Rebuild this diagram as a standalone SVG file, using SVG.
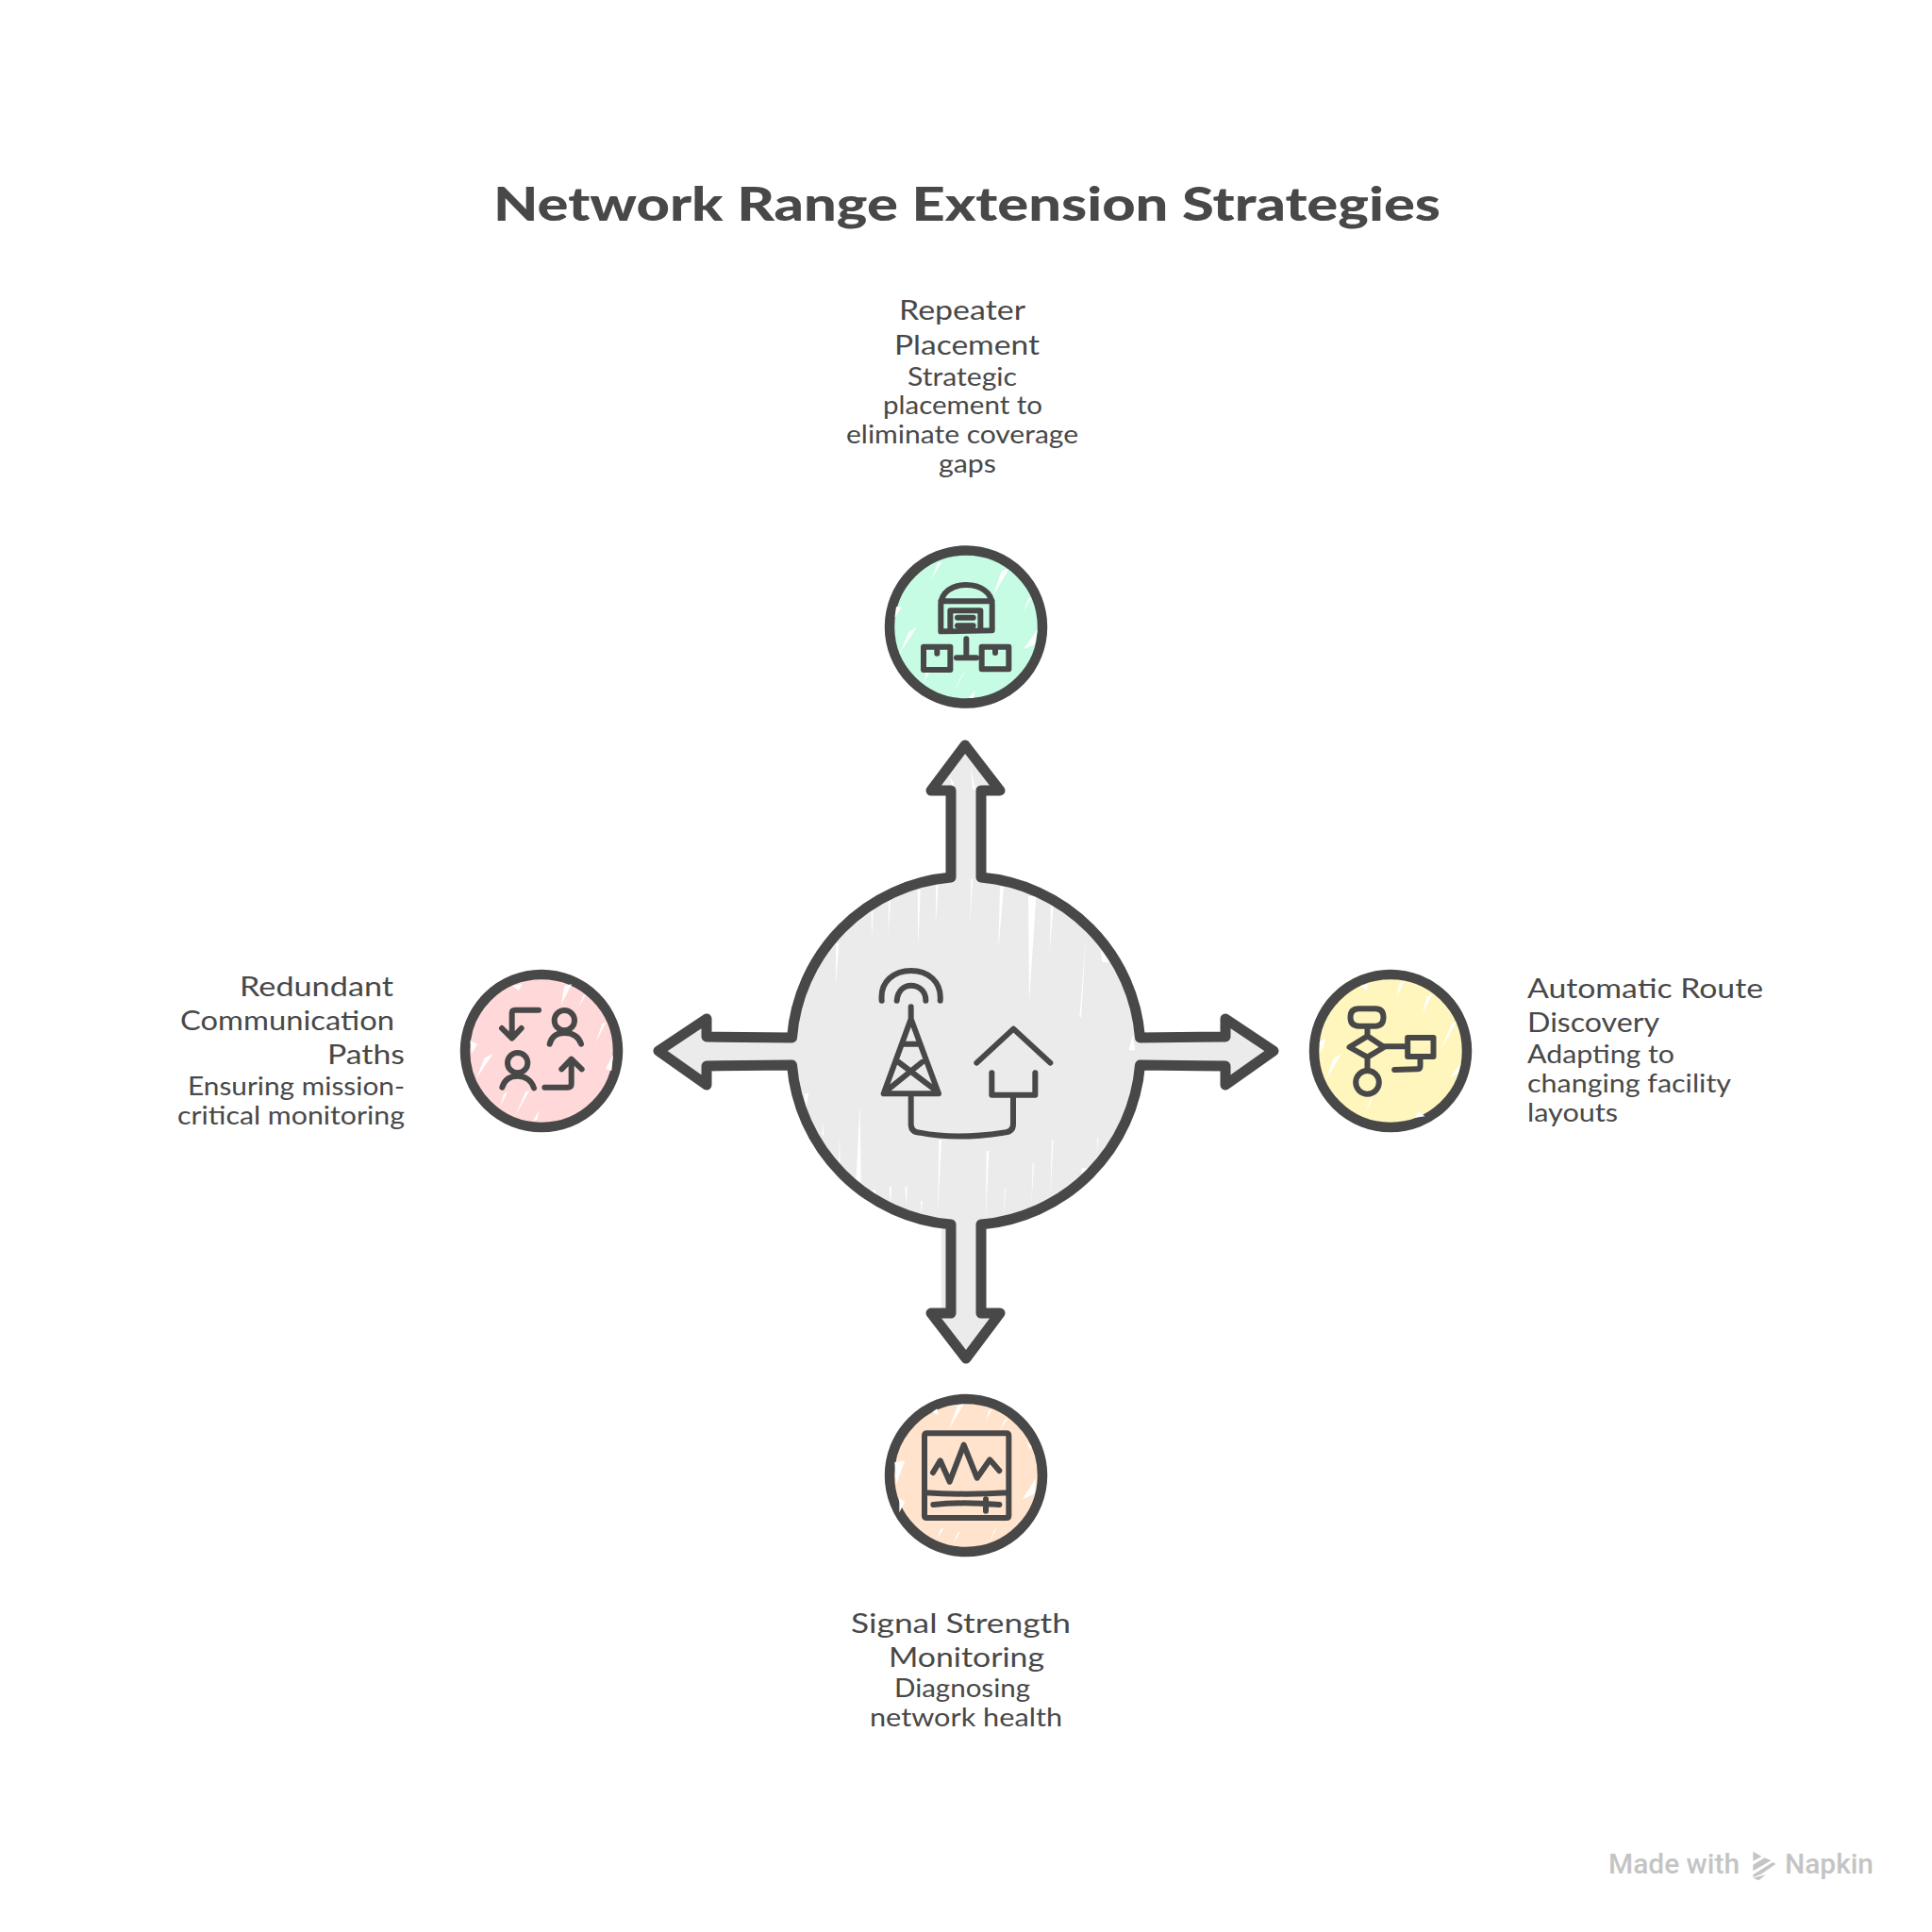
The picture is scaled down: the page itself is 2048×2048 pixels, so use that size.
<svg xmlns="http://www.w3.org/2000/svg" width="2048" height="2048" viewBox="0 0 2048 2048">
<defs>
<path id="outline" d="M1008 930 L1008 838 L987 838 L1023 790 L1060 838 L1040 838 L1040 930 A185 185 0 0 1 1208.500 1100 L1299 1099 L1299 1080 L1350 1114 L1299 1150 L1299 1130 L1208.500 1129 A185 185 0 0 1 1040 1298 L1040 1392 L1060 1392 L1024 1440 L987 1392 L1008 1392 L1008 1298 A185 185 0 0 1 839.500 1129 L749 1130 L749 1150 L698 1114 L749 1080 L749 1099 L839.500 1100 A185 185 0 0 1 1008 930 Z"/>
</defs>
<style>
.o{fill:none;stroke:#484848;stroke-width:18;stroke-linecap:round;stroke-linejoin:round}
.c{stroke:#484848;stroke-width:10.5}
.t{font-family:"Lato","Noto Sans",sans-serif;fill:#484848}
.h{font-size:29px}
.d{font-size:26px}
.r{fill:#fff}
.m{font-family:"Roboto","Open Sans",sans-serif;font-size:29px;font-weight:500;fill:#c4c4c4}
</style>
<rect width="2048" height="2048" fill="#fff"/>
<text id="title" class="t" x="523" y="234" font-size="50" font-weight="900" textLength="1004" lengthAdjust="spacingAndGlyphs">Network Range Extension Strategies</text>
<g id="connectors">
<rect x="998" y="1296" width="8" height="100" fill="#ebebeb"/>
<use href="#outline" fill="#ebebeb"/>
<g transform="translate(800 880) scale(.33333)" class="r">
<path d="M370 255L374 340L376 255ZM426 225L425 335L432 225ZM518 190L520 375L527 190ZM577 175L575 305L584 175ZM688 155L685 305L693 155ZM780 180L775 380L792 180ZM870 210L873 545L895 210ZM942 240L938 390L950 240ZM1055 320L1033 595L1038 595ZM1100 380L1105 420L1130 420ZM258 360L258 490L268 360ZM1190 700L1202 650L1210 700ZM335 870L322 1120L338 1120ZM270 975L266 1090L273 1090ZM218 930L214 970L220 970ZM158 838L158 905L172 838ZM586 985L582 1230L594 985ZM737 1020L735 1235L745 1020ZM884 1060L880 1195L888 1060ZM945 985L940 1170L950 985ZM1090 980L1088 1030L1094 980ZM1040 1075L1040 1100L1060 1075ZM428 1135L432 1190L435 1135ZM478 1135L482 1195L485 1135ZM528 1180L530 1220L534 1180ZM795 1140L792 1230L799 1140ZM360 1145L385 1145L385 1170Z"/>
</g>
<path class="r" d="M1006 823L1011 838L1011 830ZM1029 814L1031 837L1034 837Z"/>
<use href="#outline" fill="none" stroke="#484848" stroke-width="11" stroke-linejoin="round"/>
</g>
<g id="center-icon" transform="translate(800 880) scale(.33333)">
<path class="o" d="M404 542C398 480 445 447 497 447C550 447 595 480 590 542M452 542C455 510 475 494 497 494C520 494 545 510 544 542M497 562L497 600M497 600L410 838L585 838ZM475 680L520 680M458 738L582 832M532 738L415 832M497 850L497 935Q497 960 525 962Q640 985 790 962Q822 960 822 935L822 845M706 740L823 632L940 740M754 772L754 842L892 842L892 772"/>
</g>
<g id="repeater-placement">
<circle class="c" cx="1024" cy="664.500" r="81" fill="#c6fbe4"/>
<g transform="translate(920 560) scale(.33333)">
<path class="r" d="M200 165L235 108L222 110ZM398 215L448 130L425 135ZM495 268L520 220L510 225ZM85 285L108 250L90 250ZM100 400L155 315L130 330ZM178 490L205 440L190 445ZM268 530L312 450L295 475ZM495 385L540 320L530 370ZM320 540L342 515L335 540Z"/>
<path class="o" d="M232 328L232 240C235 205 265 180 312 180C360 180 392 205 395 240L395 325ZM232 232L395 232M262 318L262 262L358 262L358 318M285 284L335 284M285 310L335 310M313 352L313 412M282 412L345 412M177 377L262 377L262 450L177 450ZM220 380L220 398M362 377L448 377L448 448L362 448ZM405 380L405 396"/>
</g>
<text class="t h" x="953" y="339" textLength="134" lengthAdjust="spacingAndGlyphs">Repeater</text>
<text class="t h" x="948" y="376" textLength="154" lengthAdjust="spacingAndGlyphs">Placement</text>
<text class="t d" x="962" y="409" textLength="116" lengthAdjust="spacingAndGlyphs">Strategic</text>
<text class="t d" x="936" y="439" textLength="169" lengthAdjust="spacingAndGlyphs">placement to</text>
<text class="t d" x="897" y="470" textLength="246" lengthAdjust="spacingAndGlyphs">eliminate coverage</text>
<text class="t d" x="995" y="501" textLength="61" lengthAdjust="spacingAndGlyphs">gaps</text>
</g>
<g id="redundant-paths">
<circle class="c" cx="574" cy="1114" r="81" fill="#ffd9d9"/>
<g transform="translate(470 1010) scale(.33333)">
<path class="r" d="M375 165L408 100L385 105ZM432 170L452 135L445 135ZM485 285L518 220L505 225ZM85 280L108 290L90 320ZM105 400L158 320L130 335ZM515 370L540 325L535 375ZM180 490L205 440L192 450ZM228 520L275 435L260 445ZM285 535L305 500L298 530ZM220 105L240 120L250 100Z"/>
<path class="o" d="M303 182L228 182Q218 182 218 192L218 270M186 240L218 272L248 240M338 290C345 262 365 255 385 255C410 255 430 265 438 290M187 428C195 400 215 392 236 392C260 392 280 405 288 430M322 428L395 428Q407 428 407 418L407 340M376 370L407 338L440 370"/>
<circle class="o" cx="385" cy="215" r="32"/><circle class="o" cx="236" cy="350" r="32"/>
</g>
<text class="t h" x="254" y="1056" textLength="163" lengthAdjust="spacingAndGlyphs">Redundant</text>
<text class="t h" x="191" y="1092" textLength="227" lengthAdjust="spacingAndGlyphs">Communication</text>
<text class="t h" x="347" y="1128" textLength="82" lengthAdjust="spacingAndGlyphs">Paths</text>
<text class="t d" x="199" y="1161" textLength="230" lengthAdjust="spacingAndGlyphs">Ensuring mission-</text>
<text class="t d" x="188" y="1192" textLength="241" lengthAdjust="spacingAndGlyphs">critical monitoring</text>
</g>
<g id="route-discovery">
<circle class="c" cx="1474" cy="1114" r="81" fill="#fff6bd"/>
<g transform="translate(1370.500 1010) scale(.33333)">
<path class="r" d="M330 140L355 90L340 95ZM412 195L445 130L425 140ZM468 315L520 220L505 225ZM85 285L105 270L90 320ZM105 405L155 320L130 335ZM500 395L535 350L525 385ZM225 520L258 455L245 470ZM385 525L400 505L420 520ZM215 105L235 120L240 100Z"/>
<path class="o" d="M210 178L262 178Q288 178 288 205Q288 233 262 233L210 233Q183 233 183 205Q183 178 210 178ZM237 235L237 265M237 265L290 300L237 332L180 300ZM237 332L237 375M290 298L365 298M365 270L447 270L447 330L365 330ZM405 332L405 360Q405 370 395 370L323 372"/>
<circle class="o" cx="237" cy="412" r="37"/>
</g>
<text class="t h" x="1619" y="1058" textLength="250" lengthAdjust="spacingAndGlyphs">Automatic Route</text>
<text class="t h" x="1619" y="1094" textLength="140" lengthAdjust="spacingAndGlyphs">Discovery</text>
<text class="t d" x="1619" y="1127" textLength="156" lengthAdjust="spacingAndGlyphs">Adapting to</text>
<text class="t d" x="1619" y="1158" textLength="216" lengthAdjust="spacingAndGlyphs">changing facility</text>
<text class="t d" x="1619" y="1189" textLength="96" lengthAdjust="spacingAndGlyphs">layouts</text>
</g>
<g id="signal-monitoring">
<circle class="c" cx="1024" cy="1564" r="81" fill="#ffe3cc"/>
<g transform="translate(920 1460) scale(.33333)">
<path class="r" d="M258 165L305 85L285 90ZM375 140L395 100L385 105ZM420 170L445 130L435 135ZM85 270L118 265L90 340ZM100 385L118 395L100 430ZM490 390L535 320L530 370ZM220 515L242 478L230 485ZM270 530L295 490L285 495ZM385 525L412 475L400 490ZM505 205L520 220L515 230ZM205 110L225 120L220 100Z"/>
<path class="o" d="M188 178L440 178Q448 178 448 186L448 440Q448 447 440 447L188 447Q180 447 180 440L180 186Q180 178 188 178ZM180 367Q310 375 448 367M207 303L230 265L260 332L305 215L347 320L388 262L418 297M208 405Q300 395 418 405M375 388L375 425"/>
</g>
<text class="t h" x="902" y="1731" textLength="233" lengthAdjust="spacingAndGlyphs">Signal Strength</text>
<text class="t h" x="942" y="1767" textLength="165" lengthAdjust="spacingAndGlyphs">Monitoring</text>
<text class="t d" x="948" y="1799" textLength="144" lengthAdjust="spacingAndGlyphs">Diagnosing</text>
<text class="t d" x="922" y="1830" textLength="204" lengthAdjust="spacingAndGlyphs">network health</text>
</g>
<g id="watermark">
<text class="m" x="1705" y="1986" textLength="139" lengthAdjust="spacingAndGlyphs">Made with</text>
<g transform="translate(1680 1940) scale(.33333)" fill="#c4c4c4">
<path d="M535 68L562 84L535 98ZM535 110L572 88L592 97L535 130ZM535 142L598 102L607 108L560 140L535 150ZM535 152L575 142L553 160Z"/>
</g>
<text class="m" x="1892" y="1986" textLength="94" lengthAdjust="spacingAndGlyphs">Napkin</text>
</g>
</svg>
